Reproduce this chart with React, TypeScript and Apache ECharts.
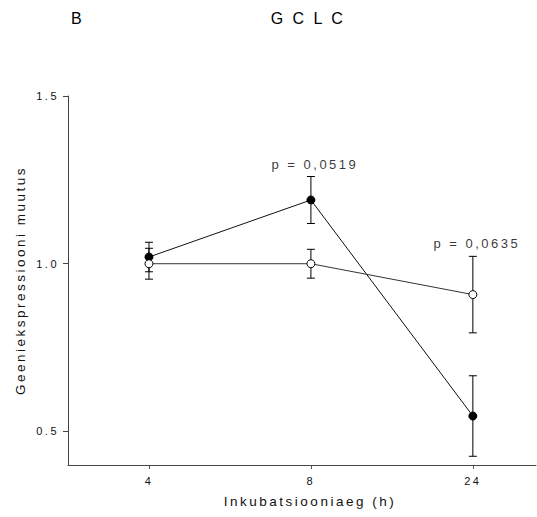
import React, { useEffect, useRef } from "react";
import * as echarts from "echarts";

const categories = ["4", "8", "24"];
const filledMean = [1.02, 1.19, 0.546];
const filledSem = [0.044, 0.07, 0.12];
const openMean = [1.0, 1.0, 0.908];
const openSem = [0.046, 0.043, 0.114];
const pValues = ["", "0,0519", "0,0635"];
const yTicks = [0.5, 1.0, 1.5];
const xTicks = [0, 1, 2];

const FONT = "'Liberation Sans', Arial, sans-serif";

export default function App() {
  const ref = useRef<HTMLDivElement>(null);

  useEffect(() => {
    if (!ref.current) return;
    const chart = echarts.init(ref.current, undefined, { renderer: "svg" });

    const errData = (mean: number[], sem: number[]) =>
      mean.map((m, i) => [i, m - sem[i], m + sem[i]]);

    const renderErr = (params: any, api: any) => {
      const x = api.value(0);
      const lo = api.coord([x, api.value(1)]);
      const hi = api.coord([x, api.value(2)]);
      const w = 4;
      const style = { stroke: "#000", lineWidth: 1 };
      return {
        type: "group",
        children: [
          { type: "line", shape: { x1: hi[0], y1: hi[1], x2: lo[0], y2: lo[1] }, style },
          { type: "line", shape: { x1: hi[0] - w, y1: hi[1], x2: hi[0] + w, y2: hi[1] }, style },
          { type: "line", shape: { x1: lo[0] - w, y1: lo[1], x2: lo[0] + w, y2: lo[1] }, style },
        ],
      };
    };

    const pData = pValues
      .map((p, i) => ({
        p,
        value: [i, Math.max(filledMean[i] + filledSem[i], openMean[i] + openSem[i])],
      }))
      .filter((d) => d.p !== "");

    const option: any = {
      animation: false,
      textStyle: { fontFamily: FONT },
      grid: { left: 68, right: 1, top: 96, bottom: 52 },
      graphic: [
        {
          type: "text",
          x: 71,
          y: 18,
          style: { text: "B", fontSize: 16, fontFamily: FONT, fill: "#000", verticalAlign: "middle" },
        },
        {
          type: "text",
          x: 308,
          y: 18,
          style: {
            text: "G C L C",
            fontSize: 16,
            fontFamily: FONT,
            fill: "#000",
            align: "center",
            verticalAlign: "middle",
          },
        },
      ],
      xAxis: {
        type: "value",
        min: -0.5,
        max: 2.39,
        splitLine: { show: false },
        axisLine: { show: true, onZero: false, lineStyle: { color: "#444", width: 1 } },
        axisTick: { show: true, customValues: xTicks, length: 4, lineStyle: { color: "#555" } },
        axisLabel: {
          customValues: xTicks,
          formatter: (v: number) => categories[Math.round(v)],
          fontSize: 11,
          color: "#111",
          margin: 10,
          fontFamily: FONT,
        },
        name: "Inkubatsiooniaeg (h)",
        nameLocation: "middle",
        nameGap: 29,
        nameTextStyle: { fontSize: 13.5, color: "#111", padding: [0, 0, 0, 16], fontFamily: FONT },
      },
      yAxis: {
        type: "value",
        min: 0.4,
        max: 1.5,
        splitLine: { show: false },
        axisLine: { show: true, onZero: false, lineStyle: { color: "#444", width: 1 } },
        axisTick: { show: true, customValues: yTicks, length: 5, lineStyle: { color: "#444" } },
        axisLabel: {
          customValues: yTicks,
          formatter: (v: number) => v.toFixed(1),
          fontSize: 11,
          color: "#111",
          margin: 9,
          fontFamily: FONT,
        },
        name: "Geeniekspressiooni muutus",
        nameLocation: "middle",
        nameGap: 41,
        nameRotate: 90,
        nameTextStyle: { fontSize: 13.5, color: "#111", fontFamily: FONT },
      },
      series: [
        {
          type: "custom",
          renderItem: renderErr,
          data: errData(filledMean, filledSem),
          encode: { x: 0, y: [1, 2] },
          z: 1,
          silent: true,
        },
        {
          type: "custom",
          renderItem: renderErr,
          data: errData(openMean, openSem),
          encode: { x: 0, y: [1, 2] },
          z: 1,
          silent: true,
        },
        {
          type: "line",
          data: filledMean.map((v, i) => [i, v]),
          symbol: "circle",
          symbolSize: 8,
          showSymbol: true,
          lineStyle: { color: "#111", width: 1 },
          itemStyle: { color: "#000", borderColor: "#000", borderWidth: 1 },
          z: 3,
        },
        {
          type: "line",
          data: openMean.map((v, i) => [i, v]),
          symbol: "circle",
          symbolSize: 8,
          showSymbol: true,
          lineStyle: { color: "#333", width: 1 },
          itemStyle: { color: "#fff", borderColor: "#000", borderWidth: 1 },
          z: 4,
        },
        {
          type: "scatter",
          data: pData.map((d) => ({ value: d.value, p: d.p })),
          symbolSize: 0,
          z: 5,
          silent: true,
          label: {
            show: true,
            position: "top",
            distance: 6,
            offset: [4, 0],
            fontSize: 13,
            color: "#000",
            fontFamily: FONT,
            formatter: (params: any) => `p = ${params.data.p}`,
          },
        },
      ],
    };

    chart.setOption(option);
    return () => chart.dispose();
  }, []);

  return (
    <>
      <style>{`.gclc-chart text { letter-spacing: 2.5px; }`}</style>
      <div
        ref={ref}
        className="gclc-chart"
        style={{ position: "fixed", left: 0, top: 0, width: 537, height: 517, background: "#fff" }}
      />
    </>
  );
}
